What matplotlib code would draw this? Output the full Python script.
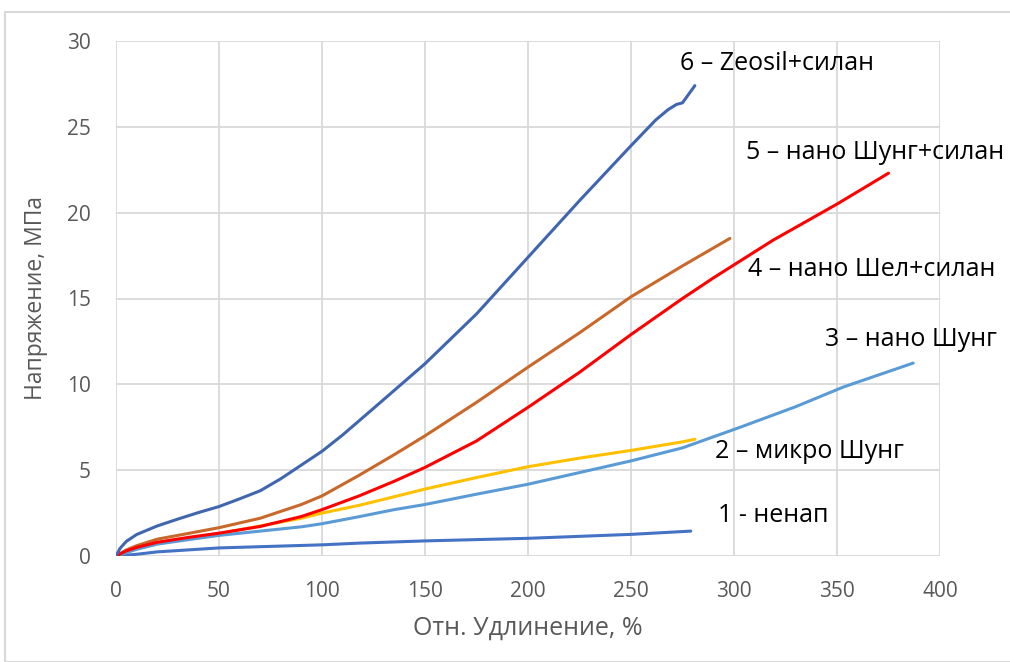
import matplotlib.pyplot as plt
from matplotlib.patches import Rectangle

plt.rcParams['font.family'] = ['Open Sans', 'DejaVu Sans']

# 1 - ненап
x1 = [0, 10, 20, 50, 100, 118, 150, 200, 250, 279]
y1 = [0, 0.1, 0.24, 0.47, 0.65, 0.75, 0.88, 1.03, 1.26, 1.45]
# 2 - микро Шунг
x2 = [0, 10, 20, 35, 50, 70, 90, 100, 118, 135, 150, 175, 200, 225, 250, 275, 281]
y2 = [0, 0.45, 0.75, 1.05, 1.3, 1.75, 2.2, 2.5, 2.95, 3.45, 3.9, 4.57, 5.2, 5.7, 6.15, 6.65, 6.8]
# 3 - нано Шунг
x3 = [0, 10, 20, 35, 50, 70, 90, 100, 118, 135, 150, 175, 200, 225, 250, 275, 303, 330, 353, 387]
y3 = [0, 0.39, 0.69, 0.95, 1.2, 1.45, 1.7, 1.88, 2.29, 2.7, 3.0, 3.6, 4.18, 4.86, 5.54, 6.3, 7.5,
      8.7, 9.84, 11.24]
# 4 - нано Шел+силан
x4 = [0, 5, 10, 20, 30, 50, 70, 90, 100, 118, 135, 150, 175, 200, 225, 250, 275, 298]
y4 = [0, 0.35, 0.6, 0.98, 1.2, 1.65, 2.2, 3.0, 3.5, 4.7, 5.9, 7.0, 8.95, 11.0, 13.0, 15.1, 16.9, 18.5]
# 5 - нано Шунг+силан
x5 = [0, 5, 10, 20, 35, 50, 70, 90, 100, 118, 135, 150, 175, 200, 225, 250, 275, 290, 319, 350, 375]
y5 = [0, 0.3, 0.5, 0.8, 1.08, 1.33, 1.72, 2.3, 2.7, 3.5, 4.35, 5.16, 6.7, 8.66, 10.7, 12.9, 15.0,
      16.2, 18.4, 20.5, 22.3]
# 6 - Zeosil+силан
x6 = [0, 2, 5, 10, 20, 30, 40, 50, 60, 70, 80, 90, 100, 110, 125, 150, 175, 200, 225, 250, 262,
      268, 272, 275, 278, 281]
y6 = [0, 0.45, 0.85, 1.25, 1.75, 2.15, 2.53, 2.88, 3.33, 3.8, 4.5, 5.3, 6.1, 7.05, 8.6, 11.2, 14.1,
      17.4, 20.7, 23.9, 25.4, 26.0, 26.3, 26.4, 26.9, 27.4]

series = [
    (x1, y1, '#4472C4', '1 - ненап', (292, 2.35)),
    (x2, y2, '#FFC000', '2 – микро Шунг', (291, 6.1)),
    (x3, y3, '#5B9BD5', '3 – нано Шунг', (344, 12.6)),
    (x4, y4, '#C8692B', '4 – нано Шел+силан', (307, 16.7)),
    (x5, y5, '#FF0000', '5 – нано Шунг+силан', (306, 23.5)),
    (x6, y6, '#4066B0', '6 – Zeosil+силан', (274, 28.7)),
]

fig = plt.figure(figsize=(10.1, 6.62), dpi=100)
ax = fig.add_axes([116 / 1010, 1 - 556 / 662, 824 / 1010, 515 / 662])

for x, y, c, lab, pos in series:
    ax.plot(x, y, color=c, lw=2.2, solid_capstyle='round', solid_joinstyle='round', zorder=3)
    ax.text(pos[0], pos[1], lab, fontsize=18, color='black', va='center', ha='left',
            clip_on=False)

ax.set_xlim(0, 400)
ax.set_ylim(0, 30)
ax.set_xticks(range(0, 401, 50))
ax.set_yticks(range(0, 31, 5))
ax.grid(True, color='#D9D9D9', lw=1.3)
ax.set_axisbelow(True)
for s in ax.spines.values():
    s.set_visible(False)
ax.tick_params(length=0, labelsize=15, labelcolor='#595959', pad=18)

ax.set_xlabel('Отн. Удлинение, %', fontsize=18, color='#595959', labelpad=10)
ax.set_ylabel('Напряжение, МПа', fontsize=16.5, color='#595959', labelpad=14)

fig.patches.append(Rectangle((5 / 1010, 0), 1, 1 - 12 / 662, transform=fig.transFigure,
                             fill=False, edgecolor='#D9D9D9', lw=1.5))

fig.savefig('out.png', dpi=100)
